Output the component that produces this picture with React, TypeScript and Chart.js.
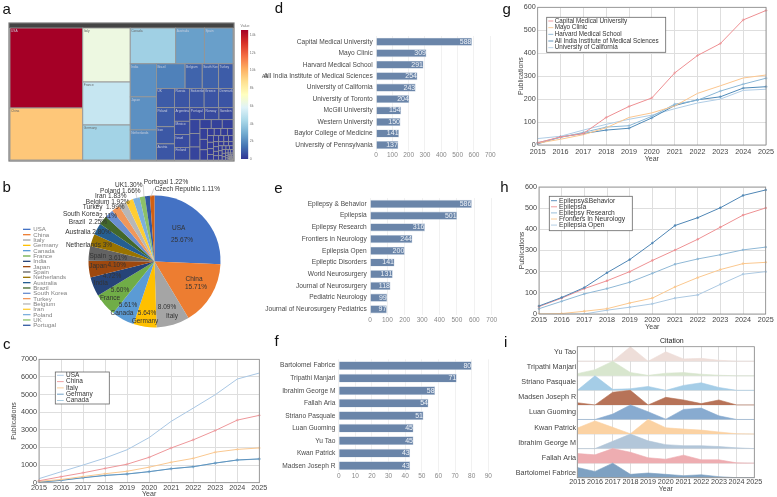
import { useEffect, useRef } from "react";
import { Chart, registerables } from "chart.js";

Chart.register(...registerables);
Chart.defaults.font.family = "'Liberation Sans', Arial, sans-serif";

const years = ["2015", "2016", "2017", "2018", "2019", "2020", "2021", "2022", "2023", "2024", "2025"];

// a: treemap
const treeNames = [
  "USA", "China", "Italy", "France", "Germany", "Canada", "Australia", "Spain", "India", "Japan", "Netherlands",
  "Brazil", "Belgium", "South Korea", "Turkey", "UK", "Poland", "Iran", "Austria",
  "Russia", "Switzerland", "Greece", "Denmark", "Argentina", "Mexico", "Israel", "Finland", "Portugal", "Norway", "Sweden",
];
const treeValues = [
  14570, 9470, 6420, 5110, 4160, 4070, 2570, 2560, 2170, 2170, 1970,
  1770, 1060, 1010, 890, 865, 865, 775, 730,
  720, 710, 700, 695, 520, 510, 495, 485, 440, 430, 420,
  354, 340, 330, 250, 245, 240, 200, 195, 190,
  120, 118, 115, 100, 98, 96, 85, 83, 80, 78, 70, 68, 66, 60, 58, 56, 54, 48, 46, 44, 42, 40,
  36, 34, 32, 30, 28, 26, 24, 22, 20, 18, 16, 14, 12, 10, 9, 8, 7, 6, 5, 5, 4, 4, 3, 3, 2, 2, 1, 1, 1, 1,
];
const colorMax = 14570;
const colorTicks = [0, 2000, 4000, 6000, 8000, 10000, 12000, 14000];
const rdYlBu = ["#313695", "#4575b4", "#74add1", "#abd9e9", "#e0f3f8", "#ffffbf", "#fee090", "#fdae61", "#f46d43", "#d73027", "#a50026"];

// b: pie
const pieCountries = [
  "USA", "China", "Italy", "Germany", "Canada", "France", "India", "Japan", "Spain", "Netherlands",
  "Australia", "Brazil", "South Korea", "Turkey", "Belgium", "Iran", "Poland", "UK", "Portugal", "Czech Republic",
];
const pieShares = [25.67, 15.71, 8.09, 5.64, 5.61, 5.6, 4.72, 4.1, 3.61, 3, 2.8, 2.25, 2.11, 1.99, 1.92, 1.83, 1.66, 1.3, 1.22, 1.11];
const pieShareLabels = [
  "25.67%", "15.71%", "8.09%", "5.64%", "5.61%", "5.60%", "4.72%", "4.10%", "3.61%", "3%",
  "2.80%", "2.25%", "2.11%", "1.99%", "1.92%", "1.83%", "1.66%", "1.30%", "1.22%", "1.11%",
];
const pieColors = [
  "#4472c4", "#ed7d31", "#a5a5a5", "#ffc000", "#5b9bd5", "#70ad47", "#264478", "#9e480e", "#636363", "#997300",
  "#255e91", "#43682b", "#698ed0", "#f1975a", "#b7b7b7", "#ffcd33", "#7cafdd", "#8cc168", "#335aa1", "#d26012",
];

// c: countries by year
const usaPubs = [230, 620, 1000, 1400, 1870, 2560, 3480, 4230, 4990, 5880, 6220];
const chinaPubs = [110, 340, 560, 810, 1050, 1440, 1970, 2430, 2960, 3550, 3820];
const italyPubs = [80, 180, 350, 510, 650, 880, 1160, 1380, 1730, 1890, 1970];
const germanyPubs = [30, 130, 280, 410, 490, 630, 790, 910, 1110, 1290, 1350];
const canadaPubs = [40, 140, 290, 420, 500, 620, 800, 900, 1120, 1280, 1340];

// d, e, f: rankings
const institutions = [
  "Capital Medical University", "Mayo Clinic", "Harvard Medical School", "All India Institute of Medical Sciences",
  "University of California", "University of Toronto", "McGill University", "Western University",
  "Baylor College of Medicine", "University of Pennsylvania",
];
const institutionCounts = [588, 309, 291, 254, 243, 204, 154, 150, 141, 137];
const journals = [
  "Epilepsy & Behavior", "Epilepsia", "Epilepsy Research", "Frontiers in Neurology", "Epilepsia Open",
  "Epileptic Disorders", "World Neurosurgery", "Journal of Neurosurgery", "Pediatric Neurology", "Journal of Neurosurgery Pediatrics",
];
const journalCounts = [586, 501, 316, 244, 200, 141, 131, 118, 99, 97];
const authors = [
  "Bartolomei Fabrice", "Tripathi Manjari", "Ibrahim George M", "Fallah Aria", "Striano Pasquale",
  "Luan Guoming", "Yu Tao", "Kwan Patrick", "Madsen Joseph R",
];
const authorCounts = [80, 71, 58, 54, 51, 45, 45, 43, 43];

// g: institutions by year
const capitalPubs = [10, 35, 50, 120, 168, 205, 314, 390, 442, 545, 586];
const mayoPubs = [8, 25, 45, 75, 120, 140, 170, 225, 258, 292, 305];
const harvardPubs = [10, 33, 55, 78, 84, 125, 178, 195, 235, 265, 291];
const aiimsPubs = [5, 35, 50, 65, 73, 118, 172, 197, 210, 248, 254];
const californiaPubs = [28, 38, 65, 90, 112, 130, 158, 183, 200, 238, 243];

// h: journals by year
const behaviorPubs = [38, 78, 125, 195, 257, 335, 418, 455, 502, 560, 586];
const epilepsiaPubs = [35, 75, 120, 157, 200, 253, 302, 353, 410, 467, 501];
const researchPubs = [25, 60, 95, 120, 150, 192, 235, 260, 280, 303, 316];
const frontiersPubs = [0, 2, 13, 25, 52, 75, 128, 172, 210, 238, 244];
const openPubs = [0, 0, 0, 18, 32, 48, 75, 90, 140, 188, 200];

// i: citation ridges, bottom row first, relative to each author's peak
const ridgeNames = [
  "Bartolomei Fabrice", "Fallah Aria", "Ibrahim George M", "Kwan Patrick", "Luan Guoming",
  "Madsen Joseph R", "Striano Pasquale", "Tripathi Manjari", "Yu Tao",
];
const ridgeBartolomei = [0.7, 0.43, 1, 0.23, 0.32, 0.23, 0.14, 0.2, 0.07, 0, 0];
const ridgeFallah = [0.66, 0.57, 1, 0.75, 0.37, 0.27, 0.55, 0.23, 0.23, 0.02, 0];
const ridgeIbrahim = [0, 0, 0.5, 1, 0.53, 0.27, 0.2, 0.2, 0.14, 0.05, 0];
const ridgeKwan = [0.41, 0.9, 0.46, 0.02, 1, 0.43, 0.34, 0.27, 0.14, 0.02, 0];
const ridgeLuan = [0, 0, 0.37, 1, 0.53, 0.02, 0.69, 0.78, 0.25, 0, 0];
const ridgeMadsen = [0.15, 0, 0.87, 1, 0, 0.52, 0.34, 0.09, 0.34, 0, 0];
const ridgeStriano = [0, 1, 0.07, 0.11, 0.27, 0, 0.34, 0.52, 0.2, 0, 0];
const ridgeTripathi = [0.15, 0.42, 1, 0.23, 0.03, 0.18, 0.22, 0.11, 0.04, 0, 0];
const ridgeYu = [0, 0, 0, 1, 0, 0.65, 0.16, 0.2, 0.07, 0, 0];
const ridgeSeries = [
  ridgeBartolomei, ridgeFallah, ridgeIbrahim, ridgeKwan, ridgeLuan, ridgeMadsen, ridgeStriano, ridgeTripathi, ridgeYu,
];
const ridgeColors = ["#7ea1c2", "#eeadb1", "#b2c6d9", "#fbd2a3", "#88abd0", "#b77358", "#a5cde7", "#d8e6ce", "#eeded9"];

const hexToRgb = (hex: string) => [1, 3, 5].map((i) => parseInt(hex.slice(i, i + 2), 16));

function valueColor(v: number) {
  const t = (Math.min(v, colorMax) / colorMax) * (rdYlBu.length - 1);
  const i = Math.min(Math.floor(t), rdYlBu.length - 2);
  const a = hexToRgb(rdYlBu[i]);
  const b = hexToRgb(rdYlBu[i + 1]);
  const c = a.map((n, k) => Math.round(n + (b[k] - n) * (t - i)));
  return `rgb(${c[0]},${c[1]},${c[2]})`;
}

function squarify(values: number[], x0: number, y0: number, w0: number, h0: number) {
  let x = x0, y = y0, w = w0, h = h0;
  const total = values.reduce((s, v) => s + v, 0);
  const areas = values.map((v) => (v * w0 * h0) / total);
  const cells: { x: number; y: number; w: number; h: number }[] = [];
  const worst = (row: number[], side: number) => {
    const s = row.reduce((a, b) => a + b, 0);
    return Math.max((side * side * Math.max(...row)) / (s * s), (s * s) / (side * side * Math.min(...row)));
  };
  let start = 0;
  while (start < areas.length) {
    const side = Math.min(w, h);
    const row = [areas[start]];
    let end = start + 1;
    while (end < areas.length && worst([...row, areas[end]], side) <= worst(row, side)) {
      row.push(areas[end]);
      end++;
    }
    const thick = row.reduce((a, b) => a + b, 0) / side;
    let pos = 0;
    row.forEach((a) => {
      const len = a / thick;
      if (w >= h) cells.push({ x, y: y + pos, w: thick, h: len });
      else cells.push({ x: x + pos, y, w: len, h: thick });
      pos += len;
    });
    if (w >= h) { x += thick; w -= thick; } else { y += thick; h -= thick; }
    start = end;
  }
  return cells;
}

const TEXT = "#444";
const GRID = "#dedede";
const font = (size: number) => `${size}px 'Liberation Sans', Arial, sans-serif`;

type Rect = { x: number; y: number; w: number; h: number };
type Area = { l: number; t: number; r: number; b: number };

// canvas rect + wanted plot area -> padding and fixed scale sizes, so panels land where they should
function frame(rect: Rect, area: Area, leftEdge: number, bottomEdge: number) {
  return {
    padding: {
      left: leftEdge - rect.x,
      top: area.t - rect.y,
      right: rect.x + rect.w - area.r,
      bottom: rect.y + rect.h - bottomEdge,
    },
    fitY: (s: any) => { s.width = area.l - leftEdge; },
    fitX: (s: any) => { s.height = bottomEdge - area.b; },
  };
}

const boxPlugin = {
  id: "plotBox",
  afterDatasetsDraw(chart: any) {
    const { ctx, chartArea: a } = chart;
    ctx.save();
    ctx.strokeStyle = "#8a8a8a";
    ctx.lineWidth = 0.8;
    ctx.strokeRect(a.left, a.top, a.right - a.left, a.bottom - a.top);
    ctx.restore();
  },
};

function treemapConfig(rect: Rect, area: Area) {
  const f = frame(rect, area, area.l, area.b);
  return {
    type: "scatter",
    data: { datasets: [] },
    plugins: [{
      id: "treemap",
      afterDraw(chart: any) {
        const { ctx, chartArea: a, scales: { x: sx, y: sy } } = chart;
        ctx.save();
        ctx.fillStyle = "#444";
        ctx.fillRect(a.left - 1, a.top - 5, a.right - a.left + 2, 5);
        const cells = squarify(treeValues, sx.min, sy.min, sx.max - sx.min, sy.max - sy.min);
        cells.forEach((c, i) => {
          const px = sx.getPixelForValue(c.x);
          const py = sy.getPixelForValue(c.y);
          const pw = sx.getPixelForValue(c.x + c.w) - px;
          const ph = sy.getPixelForValue(c.y + c.h) - py;
          ctx.fillStyle = valueColor(treeValues[i]);
          ctx.fillRect(px, py, pw, ph);
          ctx.strokeStyle = "#969696";
          ctx.lineWidth = i < 19 ? 0.9 : 0.75;
          ctx.strokeRect(px, py, pw, ph);
          if (treeNames[i] && pw > 10 && ph > 7) {
            const v = treeValues[i];
            ctx.fillStyle = v > 3500 && v < 11000 ? "#666" : "#c8cede";
            ctx.font = font(3.2);
            ctx.textBaseline = "top";
            ctx.fillText(treeNames[i], px + 1, py + 1.5);
          }
        });
        ctx.strokeStyle = "#777";
        ctx.lineWidth = 1.2;
        ctx.strokeRect(a.left - 1, a.top - 5, a.right - a.left + 2, a.bottom - a.top + 6);
        ctx.restore();
      },
    }],
    options: {
      responsive: false,
      animation: false,
      layout: { padding: f.padding },
      plugins: { legend: { display: false }, tooltip: { enabled: false } },
      scales: {
        x: { type: "linear", min: 0, max: area.r - area.l, display: false },
        y: { type: "linear", min: 0, max: area.b - area.t, reverse: true, display: false },
      },
    },
  };
}

function colorbarConfig(rect: Rect, area: Area) {
  const padding = {
    left: area.l - rect.x,
    top: area.t - rect.y,
    right: 0,
    bottom: rect.y + rect.h - area.b,
  };
  return {
    type: "bar",
    data: {
      labels: ["Value"],
      datasets: [{
        data: [[0, colorMax]],
        barPercentage: 1,
        categoryPercentage: 1,
        backgroundColor: (c: any) => {
          const a = c.chart.chartArea;
          if (!a) return rdYlBu[0];
          const g = c.chart.ctx.createLinearGradient(0, a.bottom, 0, a.top);
          rdYlBu.forEach((col, i) => g.addColorStop(i / (rdYlBu.length - 1), col));
          return g;
        },
      }],
    },
    options: {
      responsive: false,
      animation: false,
      layout: { padding },
      plugins: { legend: { display: false }, tooltip: { enabled: false } },
      scales: {
        x: { display: false },
        y: {
          position: "right",
          min: 0,
          max: colorMax,
          afterFit: (s: any) => { s.width = rect.x + rect.w - area.r; },
          afterBuildTicks: (s: any) => { s.ticks = colorTicks.map((value) => ({ value })); },
          grid: { display: false, drawTicks: false },
          border: { display: false },
          ticks: {
            autoSkip: false,
            padding: 1.5,
            color: "#777",
            font: { size: 3.6 },
            callback: (v: number) => (v === 0 ? "0" : `${v / 1000}k`),
          },
        },
      },
    },
  };
}

function pieConfig(rect: Rect, cx: number, cy: number, radius: number) {
  const at = (x: number, y: number) => [x - rect.x, y - rect.y];
  const callouts: [string, number, number][] = [
    ["USA", 178.7, 228.3], [pieShareLabels[0], 182, 240],
    ["China", 194, 279], [pieShareLabels[1], 196, 287.3],
    [pieShareLabels[2], 167, 307.7], ["Italy", 172, 316],
    [pieShareLabels[3], 147, 313.3], ["Germany", 145, 321.7],
    [pieShareLabels[4], 128, 305.7], ["Canada", 122, 313.7],
    [pieShareLabels[5], 120, 290.3], ["France", 110, 298.3],
    ["India", 100.7, 283], [pieShareLabels[6], 112, 276.7],
    ["Japan", 98, 266.7], [pieShareLabels[7], 116.7, 265],
    ["Spain", 97.7, 256], [pieShareLabels[8], 117.7, 258],
    [`Netherlands ${pieShareLabels[9]}`, 89, 245],
    [`Australia ${pieShareLabels[10]}`, 88, 232.7],
    [`Brazil  ${pieShareLabels[11]}`, 88, 222.3],
    ["South Korea", 81, 214], [pieShareLabels[12], 108, 216.7],
    [`Turkey  ${pieShareLabels[13]}`, 103.7, 207.3],
    [`Belgium ${pieShareLabels[14]}`, 107.7, 202],
    [`Iran ${pieShareLabels[15]}`, 110.7, 196.3],
    [`Poland ${pieShareLabels[16]}`, 120.3, 191],
    [`UK${pieShareLabels[17]}`, 128.7, 185],
    [`Portugal ${pieShareLabels[18]}`, 166, 182],
    [`Czech Republic ${pieShareLabels[19]}`, 187.3, 189.3],
  ];
  const leaders = [[135, 190, 137.3, 199.3], [143.3, 185, 144, 197.3], [154, 188.3, 150.7, 197.3]];
  return {
    type: "pie",
    data: { labels: pieCountries, datasets: [{ data: pieShares, backgroundColor: pieColors, borderWidth: 0 }] },
    plugins: [{
      id: "pieText",
      afterDatasetsDraw(chart: any) {
        const { ctx } = chart;
        ctx.save();
        ctx.strokeStyle = "#bbb";
        ctx.lineWidth = 0.6;
        leaders.forEach(([x1, y1, x2, y2]) => {
          const [a, b] = at(x1, y1);
          const [c, d] = at(x2, y2);
          ctx.beginPath();
          ctx.moveTo(a, b);
          ctx.lineTo(c, d);
          ctx.stroke();
        });
        ctx.font = font(6.5);
        ctx.fillStyle = "#333";
        ctx.textAlign = "center";
        ctx.textBaseline = "middle";
        callouts.forEach(([t, x, y]) => {
          const [px, py] = at(x, y);
          ctx.fillText(t, px, py);
        });
        // legend stops at Portugal in the original
        ctx.textAlign = "left";
        ctx.font = font(6.1);
        pieCountries.slice(0, 19).forEach((name, i) => {
          const [px, py] = at(23, 229.3 + i * 5.33);
          ctx.fillStyle = pieColors[i];
          ctx.fillRect(px, py - 0.6, 7.5, 1.3);
          ctx.fillStyle = "#808080";
          ctx.fillText(name, px + 10.3, py + 0.3);
        });
        ctx.restore();
      },
    }],
    options: {
      responsive: false,
      animation: false,
      layout: {
        padding: {
          left: cx - radius - rect.x,
          right: rect.x + rect.w - cx - radius,
          top: cy - radius - rect.y,
          bottom: rect.y + rect.h - cy - radius,
        },
      },
      plugins: { legend: { display: false }, tooltip: { enabled: false } },
    },
  };
}

function barConfig(rect: Rect, area: Area, names: string[], counts: number[], max: number, step: number, tickPad: number) {
  const bottomEdge = area.b + tickPad + 9;
  const f = frame(rect, area, rect.x, bottomEdge);
  return {
    type: "bar",
    data: {
      labels: names,
      datasets: [{
        data: counts,
        backgroundColor: "#6a85a9",
        borderColor: "#c6d2e0",
        borderWidth: 0.6,
        barPercentage: 0.7,
        categoryPercentage: 1,
      }],
    },
    plugins: [{
      id: "barValues",
      afterDatasetsDraw(chart: any) {
        const { ctx } = chart;
        ctx.save();
        ctx.font = font(7);
        ctx.fillStyle = "#eef2f7";
        ctx.textAlign = "right";
        ctx.textBaseline = "middle";
        chart.getDatasetMeta(0).data.forEach((bar: any, i: number) => {
          ctx.fillText(String(counts[i]), bar.x - 0.5, bar.y);
        });
        ctx.restore();
      },
    }],
    options: {
      indexAxis: "y",
      responsive: false,
      animation: false,
      layout: { padding: f.padding },
      plugins: { legend: { display: false }, tooltip: { enabled: false } },
      scales: {
        x: {
          min: 0,
          max,
          afterFit: f.fitX,
          grid: { color: "#f1f1f1", drawTicks: false },
          border: { display: false },
          ticks: { stepSize: step, maxRotation: 0, autoSkip: false, padding: tickPad, color: "#888", font: { size: 6.5 } },
        },
        y: {
          afterFit: f.fitY,
          grid: { display: false, drawTicks: false },
          border: { display: false },
          ticks: { autoSkip: false, padding: 3.3, color: "#4a4a4a", font: { size: 6.6 } },
        },
      },
    },
  };
}

type LegendBox = { x: number; y: number; w: number; h: number; first: number; step: number; s1: number; s2: number; text: number; size: number };

function lineConfig(rect: Rect, area: Area, cfg: any) {
  const bottomEdge = cfg.yearY + 4.2;
  const leftEdge = cfg.pubX - 4.2;
  const f = frame(rect, area, leftEdge, bottomEdge);
  const lg: LegendBox = cfg.legend;
  return {
    type: "line",
    data: {
      labels: years,
      datasets: cfg.series.map((s: any) => ({
        label: s.label,
        data: s.data,
        borderColor: s.color,
        backgroundColor: s.color,
        borderWidth: 1,
        tension: 0,
        pointStyle: s.marker || "circle",
        pointRadius: s.marker ? 1.5 : s.dot ? 0.9 : 0,
        pointBorderWidth: 0.6,
        pointBorderColor: s.color,
      })),
    },
    plugins: [boxPlugin, {
      id: "boxLegend",
      afterDraw(chart: any) {
        const { ctx } = chart;
        ctx.save();
        ctx.translate(-rect.x, -rect.y);
        ctx.fillStyle = "#fff";
        ctx.fillRect(lg.x, lg.y, lg.w, lg.h);
        ctx.strokeStyle = "#666";
        ctx.lineWidth = 0.8;
        ctx.strokeRect(lg.x, lg.y, lg.w, lg.h);
        ctx.font = font(lg.size);
        ctx.textBaseline = "middle";
        cfg.series.forEach((s: any, i: number) => {
          const y = lg.first + i * lg.step;
          ctx.strokeStyle = s.color;
          ctx.lineWidth = 0.9;
          ctx.beginPath();
          ctx.moveTo(lg.s1, y);
          ctx.lineTo(lg.s2, y);
          ctx.stroke();
          ctx.fillStyle = "#333";
          ctx.fillText(s.label, lg.text, y);
        });
        ctx.restore();
      },
    }],
    options: {
      responsive: false,
      animation: false,
      layout: { padding: f.padding },
      plugins: { legend: { display: false }, tooltip: { enabled: false } },
      scales: {
        x: {
          afterFit: f.fitX,
          grid: { color: GRID, drawTicks: false },
          border: { display: false },
          ticks: { maxRotation: 0, autoSkip: false, padding: cfg.xPad, color: TEXT, font: { size: 7.2 } },
          title: { display: true, text: "Year", padding: 0, color: TEXT, font: { size: 7 } },
        },
        y: {
          min: 0,
          max: cfg.yMax,
          afterFit: f.fitY,
          grid: { color: GRID, drawTicks: false },
          border: { display: false },
          ticks: {
            stepSize: cfg.yStep,
            autoSkip: false,
            padding: 2,
            color: TEXT,
            font: { size: 7.2 },
            callback: (v: number) => String(v),
          },
          title: { display: true, text: "Publications", padding: 0, color: TEXT, font: { size: 7 } },
        },
      },
    },
  };
}

function ridgeConfig(rect: Rect, area: Area) {
  const bottomEdge = 489.3 + 4.2;
  const f = frame(rect, area, rect.x, bottomEdge);
  return {
    type: "line",
    data: {
      labels: years,
      datasets: ridgeSeries.map((vals, i) => ({
        label: ridgeNames[i],
        data: vals.map((v) => i + v),
        fill: { value: i },
        tension: 0,
        pointRadius: 0,
        borderWidth: 0.6,
        borderColor: ridgeColors[i],
        backgroundColor: ridgeColors[i],
      })),
    },
    plugins: [boxPlugin, {
      id: "ridgeBase",
      beforeDatasetsDraw(chart: any) {
        const { ctx, chartArea: a, scales: { y } } = chart;
        ctx.save();
        ctx.strokeStyle = "#d4d4d4";
        ctx.lineWidth = 0.8;
        ridgeNames.forEach((_, i) => {
          const py = y.getPixelForValue(i);
          ctx.beginPath();
          ctx.moveTo(a.left, py);
          ctx.lineTo(a.right, py);
          ctx.stroke();
        });
        ctx.restore();
      },
      afterDraw(chart: any) {
        const { ctx, chartArea: a } = chart;
        ctx.save();
        ctx.font = font(7);
        ctx.fillStyle = "#222";
        ctx.textAlign = "center";
        ctx.textBaseline = "middle";
        ctx.fillText("Citation", (a.left + a.right) / 2 + 6, a.top - 5.7);
        ctx.restore();
      },
    }],
    options: {
      responsive: false,
      animation: false,
      layout: { padding: f.padding },
      plugins: { legend: { display: false }, tooltip: { enabled: false } },
      scales: {
        x: {
          afterFit: f.fitX,
          grid: { color: GRID, drawTicks: false },
          border: { display: false },
          ticks: { maxRotation: 0, autoSkip: false, padding: 0.5, color: TEXT, font: { size: 7.2 } },
          title: { display: true, text: "Year", padding: 0, color: TEXT, font: { size: 7 } },
        },
        y: {
          min: 0,
          max: ridgeNames.length,
          afterFit: f.fitY,
          afterBuildTicks: (s: any) => { s.ticks = ridgeNames.map((_, i) => ({ value: 0.3 + i * 1.046 })); },
          grid: { display: false, drawTicks: false },
          border: { display: false },
          ticks: { autoSkip: false, padding: 1.2, color: TEXT, font: { size: 7.2 }, callback: (_: any, i: number) => ridgeNames[i] },
        },
      },
    },
  };
}

function Panel({ rect, config }: { rect: Rect; config: any }) {
  const ref = useRef<HTMLCanvasElement>(null);
  useEffect(() => {
    if (!ref.current) return;
    const chart = new Chart(ref.current, config);
    return () => chart.destroy();
  }, []);
  return (
    <canvas
      ref={ref}
      width={rect.w}
      height={rect.h}
      style={{ position: "absolute", left: rect.x, top: rect.y, width: rect.w, height: rect.h }}
    />
  );
}

const rA = { x: 0, y: 15, w: 236, h: 150 };
const rBar = { x: 236, y: 25, w: 30, h: 140 };
const rB = { x: 0, y: 165, w: 270, h: 170 };
const rC = { x: 0, y: 345, w: 272, h: 152 };
const rD = { x: 260, y: 25, w: 245, h: 145 };
const rE = { x: 260, y: 190, w: 245, h: 145 };
const rF = { x: 260, y: 350, w: 245, h: 140 };
const rG = { x: 510, y: 0, w: 267, h: 170 };
const rH = { x: 510, y: 175, w: 267, h: 160 };
const rI = { x: 515, y: 330, w: 262, h: 167 };

const configs = [
  { rect: rA, config: treemapConfig(rA, { l: 10, t: 28, r: 233, b: 160 }) },
  { rect: rBar, config: colorbarConfig(rBar, { l: 241, t: 30, r: 248.3, b: 159 }) },
  { rect: rB, config: pieConfig(rB, 154.5, 261.5, 66) },
  {
    rect: rC,
    config: lineConfig(rC, { l: 39, t: 359.3, r: 259.3, b: 482.7 }, {
      yMax: 7000, yStep: 1000, pubX: 13.7, yearY: 494, xPad: 1,
      legend: { x: 55.3, y: 372, w: 54, h: 32, first: 375.3, step: 6.3, s1: 57, s2: 63.7, text: 66, size: 6.5 },
      series: [
        { label: "USA", data: usaPubs, color: "#a9c7e4" },
        { label: "China", data: chinaPubs, color: "#ee979a", marker: "cross" },
        { label: "Italy", data: italyPubs, color: "#fac890", marker: "cross" },
        { label: "Germany", data: germanyPubs, color: "#5f94bf", marker: "cross" },
        { label: "Canada", data: canadaPubs, color: "#9fc6de", marker: "cross" },
      ],
    }),
  },
  { rect: rD, config: barConfig(rD, { l: 376, t: 36, r: 490.3, b: 150.7 }, institutions, institutionCounts, 700, 100, 1) },
  { rect: rE, config: barConfig(rE, { l: 370, t: 198.1, r: 491.7, b: 315.2 }, journals, journalCounts, 700, 100, 1.5) },
  { rect: rF, config: barConfig(rF, { l: 338.7, t: 359.4, r: 488.3, b: 472 }, authors, authorCounts, 90, 10, 0.5) },
  {
    rect: rG,
    config: lineConfig(rG, { l: 537.7, t: 7.3, r: 766.3, b: 145 }, {
      yMax: 600, yStep: 100, pubX: 520.7, yearY: 159.3, xPad: 3,
      legend: { x: 546.7, y: 17.3, w: 119, h: 35, first: 21, step: 6.67, s1: 548.3, s2: 553.3, text: 554.7, size: 6.3 },
      series: [
        { label: "Capital Medical University", data: capitalPubs, color: "#ee8f92", marker: "cross" },
        { label: "Mayo Clinic", data: mayoPubs, color: "#fbc68f" },
        { label: "Harvard Medical School", data: harvardPubs, color: "#8ab7d6", marker: "cross" },
        { label: "All India Institute of Medical Sciences", data: aiimsPubs, color: "#4f8ab8", marker: "cross" },
        { label: "University of California", data: californiaPubs, color: "#b0cde6" },
      ],
    }),
  },
  {
    rect: rH,
    config: lineConfig(rH, { l: 539, t: 187, r: 765.7, b: 314 }, {
      yMax: 600, yStep: 100, pubX: 522, yearY: 326.7, xPad: 1.5,
      legend: { x: 549.3, y: 196.3, w: 83, h: 34.4, first: 200.7, step: 6.1, s1: 551, s2: 557, text: 559, size: 6.7 },
      series: [
        { label: "Epilepsy&Behavior", data: behaviorPubs, color: "#4f86b5", dot: true },
        { label: "Epilepsia", data: epilepsiaPubs, color: "#ee9193", dot: true },
        { label: "Epilepsy Research", data: researchPubs, color: "#8fb8d6", dot: true },
        { label: "Frontiers In Neurology", data: frontiersPubs, color: "#fbc88f", dot: true },
        { label: "Epilepsia Open", data: openPubs, color: "#acc9e2", dot: true },
      ],
    }),
  },
  { rect: rI, config: ridgeConfig(rI, { l: 577.3, t: 346.7, r: 754.3, b: 477.7 }) },
];

const panelLetters: [string, number, number][] = [
  ["a", 6.7, 8], ["b", 6.7, 186], ["c", 6.7, 342.7],
  ["d", 279, 7.3], ["e", 278.3, 186.7], ["f", 276.7, 340],
  ["g", 506.7, 8], ["h", 504.3, 185.7], ["i", 505.7, 341],
];

const floating = (x: number, y: number, size: number, color: string): any => ({
  position: "absolute",
  left: x,
  top: y,
  transform: "translate(-50%, -50%)",
  font: font(size),
  color,
  lineHeight: 1,
});

export default function App() {
  return (
    <div style={{ position: "fixed", left: 0, top: 0, width: 777, height: 497, background: "#fff", overflow: "hidden", filter: "blur(0.3px)" }}>
      {configs.map((p, i) => (
        <Panel key={i} rect={p.rect} config={p.config} />
      ))}
      {panelLetters.map(([t, x, y]) => (
        <div key={t} style={floating(x, y, 15, "#111")}>{t}</div>
      ))}
      <div style={floating(245, 27, 3.6, "#777")}>Value</div>
      <div style={floating(265, 76, 6, "#555")}>All</div>
    </div>
  );
}
